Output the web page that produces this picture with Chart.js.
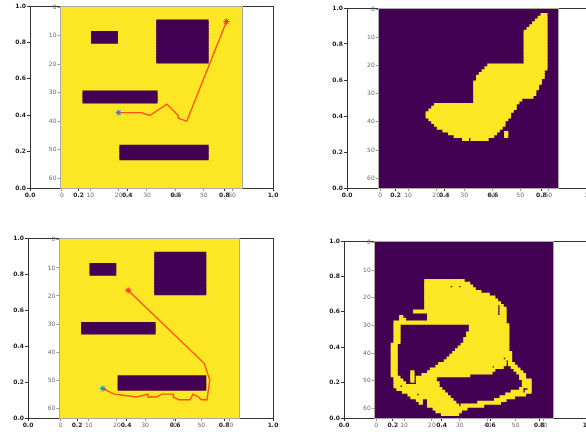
<!DOCTYPE html>
<html><head><meta charset="utf-8">
<script src="https://cdn.jsdelivr.net/npm/chart.js@4.4.1/dist/chart.umd.min.js"></script>
<style>
html,body{margin:0;padding:0;background:#fff;overflow:hidden;width:586px;height:434px}
#wrap{position:relative;width:586px;height:434px;overflow:hidden;background:#fff}
canvas{position:absolute;left:0;top:0}
</style></head><body><div id="wrap"></div>
<script>
// ---------------- data ----------------
const outerTicks = [0, 0.2, 0.4, 0.6, 0.8, 1.0];
const gridTicks = [0, 10, 20, 30, 40, 50, 60];
const gridSize = 64;

// obstacle map (panels 1 and 3): rectangles as column / row ranges
const obstacleCols = [[11, 19], [34, 51], [8, 33], [21, 51]];
const obstacleRows = [[9, 12], [5, 19], [30, 33], [49, 53]];

// paths (first point = start, last point = goal)
const path1X = [20, 28, 31, 37, 41, 41, 44, 58];
const path1Y = [37, 37, 38, 34, 38, 39, 40, 5];
const path2X = [20, 21, 27, 30, 33, 37, 38, 38, 39, 42, 46, 47, 50, 51, 58];
const path2Y = [37, 38, 38, 37, 36, 33, 32, 29, 29, 26, 26, 24, 24, 25, 5];
const path3X = [15, 17, 19, 27, 31, 31, 34, 36, 40, 40, 42, 46, 47, 49, 50, 52, 53, 51, 24];
const path3Y = [53, 54, 55, 56, 55, 56, 56, 55, 55, 56, 57, 57, 55, 56, 57, 57, 50, 44, 18];
const path4X = [15, 15, 20, 24, 27, 30, 32, 33, 35, 36, 37, 38, 24];
const path4Y = [53, 52, 48, 45, 45, 41, 40, 37, 37, 38, 37, 33, 18];

// explored cells (panels 2 and 4): [row, firstCol, lastCol]
const explored2 = [
 [2,58,59],[3,57,59],[4,56,59],[5,55,59],[6,54,59],[7,53,59],[8,52,59],
 [9,52,59],[10,52,59],[11,52,59],[12,52,59],[13,52,59],[14,52,59],[15,52,59],
 [16,52,59],[17,52,59],[18,52,59],[19,52,59],
 [20,39,59],[21,38,59],[22,37,58],[23,36,58],[24,35,58],[25,35,57],[26,34,57],
 [27,34,56],[28,34,56],[29,34,55],[30,34,55],[31,34,54],[32,34,50],[33,34,49],
 [34,20,48],[35,19,48],[36,18,47],[37,17,46],[38,17,46],[39,18,45],[40,19,44],
 [41,20,44],[42,21,43],[43,23,42],[44,25,41],[44,45,45],[45,27,40],[45,45,45],
 [46,30,31],[46,33,38]
];
const explored4 = [
 [14,18,31],[15,18,33],[16,18,26],[16,28,29],[16,31,34],[17,18,35],[18,18,37],
 [19,18,40],[20,18,42],[21,18,43],[22,18,44],[23,18,43],[23,45,45],[24,18,43],
 [24,45,46],[25,14,43],[25,45,46],[26,19,43],[26,45,46],[27,9,9],[27,19,46],
 [28,9,10],[28,19,46],[29,7,46],
 [30,7,8],[30,34,47],[31,7,8],[31,34,47],[32,7,8],[32,34,47],[33,7,8],[33,33,47],
 [34,7,8],[34,33,47],[35,7,8],[35,32,47],[36,7,8],[36,32,47],[37,6,7],[37,31,47],
 [38,6,7],[38,30,47],[39,6,7],[39,29,47],[40,6,7],[40,28,48],[41,6,7],[41,27,48],
 [42,6,7],[42,26,45],[42,47,48],[43,6,7],[43,25,46],[43,48,48],
 [44,6,7],[44,23,46],[44,48,49],[45,6,7],[45,22,41],[45,43,45],[45,49,50],
 [46,6,7],[46,20,42],[46,50,51],[47,6,7],[47,13,13],[47,19,41],[47,51,52],
 [48,6,7],[48,13,13],[48,17,33],[48,52,53],[49,7,8],[49,13,13],[49,15,21],[49,52,53],
 [50,7,9],[50,13,13],[50,15,21],[50,53,55],[51,7,10],[51,15,22],[51,53,55],
 [52,7,8],[52,10,22],[52,53,55],[53,8,23],[53,52,52],[53,55,55],
 [54,10,24],[54,49,52],[54,54,55],[55,12,14],[55,16,25],[55,47,53],
 [56,13,26],[56,45,49],[57,15,16],[57,19,27],[57,43,46],
 [58,16,16],[58,19,28],[58,37,44],[59,19,29],[59,31,38],[60,21,32],[61,22,30],[62,24,29]
];

// ---------------- styling / layout ----------------
const YELLOW = '#fde725', PURPLE = '#440154';
const LINE = '#ff5014', START = '#1f77b4', GOAL = '#e3241b';
const CW = 620, CH = 434;
const YAX_W = 26, XAX_H = 14;
Chart.defaults.font.family = "'DejaVu Sans', sans-serif";
Chart.defaults.animation = false;

const obstacleRuns = [];
obstacleRows.forEach((rr, i) => {
  for (let r = rr[0]; r <= rr[1]; r++) obstacleRuns.push([r, obstacleCols[i][0], obstacleCols[i][1]]);
});

const panels = [
  {outer:{l:30,t:6,r:273,b:188}, inner:{l:60.5,t:6,r:242,b:188}, bg:YELLOW, fg:PURPLE, runs:obstacleRuns, px:path1X, py:path1Y},
  {outer:{l:347,t:8,r:590,b:188}, inner:{l:378.7,t:8,r:558,b:188}, bg:PURPLE, fg:YELLOW, runs:explored2, px:path2X, py:path2Y},
  {outer:{l:28,t:238.5,r:273,b:418}, inner:{l:59.3,t:238.5,r:239.3,b:418}, bg:YELLOW, fg:PURPLE, runs:obstacleRuns, px:path3X, py:path3Y},
  {outer:{l:344,t:241,r:588,b:418}, inner:{l:374.7,t:241,r:553.3,b:418}, bg:PURPLE, fg:YELLOW, runs:explored4, px:path4X, py:path4Y}
];

const wrap = document.getElementById('wrap');
function mkCanvas() {
  const c = document.createElement('canvas');
  c.width = CW; c.height = CH; c.style.width = CW + 'px'; c.style.height = CH + 'px';
  wrap.appendChild(c);
  return c.getContext('2d');
}
const fixW = w => s => { s.width = w; };
const fixH = h => s => { s.height = h; };
function pad(rc) { return {left: rc.l - YAX_W, top: rc.t, right: CW - rc.r, bottom: CH - rc.b - XAX_H}; }

const bgPlugin = {
  id: 'imgbg',
  beforeDraw(chart, args, opts) {
    if (!opts || !opts.color) return;
    const a = chart.chartArea, ctx = chart.ctx;
    ctx.save(); ctx.fillStyle = opts.color;
    ctx.fillRect(a.left, a.top, a.right - a.left, a.bottom - a.top);
    ctx.restore();
  }
};

function frameAxis(pos, color, isH) {
  return {
    type: 'linear', position: pos, min: 0, max: 1, display: true, z: 2,
    afterBuildTicks: s => { s.ticks = []; },
    afterFit: isH ? fixH(0) : fixW(0),
    ticks: {display: false}, grid: {display: false},
    border: {display: true, color: color, width: 1}
  };
}

panels.forEach(p => {
  // outer 0..1 axes
  const tickFontO = {size: 6, weight: 'bold'};
  new Chart(mkCanvas(), {
    type: 'scatter',
    data: {datasets: []},
    options: {
      responsive: false, animation: false,
      layout: {padding: pad(p.outer)},
      plugins: {legend: {display: false}, tooltip: {enabled: false}},
      scales: {
        x: {type: 'linear', position: 'bottom', min: 0, max: 1,
            afterBuildTicks: s => { s.ticks = outerTicks.map(v => ({value: v})); },
            afterFit: fixH(XAX_H),
            ticks: {color: '#1a1a1a', font: tickFontO, padding: 1, maxRotation: 0, autoSkip: false, callback: v => v.toFixed(1)},
            grid: {display: true, drawOnChartArea: false, drawTicks: true, tickLength: 3, color: '#333'},
            border: {display: true, color: '#333', width: 1}},
        y: {type: 'linear', position: 'left', min: 0, max: 1,
            afterBuildTicks: s => { s.ticks = outerTicks.map(v => ({value: v})); },
            afterFit: fixW(YAX_W),
            ticks: {color: '#1a1a1a', font: tickFontO, padding: 1, autoSkip: false, callback: v => v.toFixed(1)},
            grid: {display: true, drawOnChartArea: false, drawTicks: true, tickLength: 3, color: '#333'},
            border: {display: true, color: '#333', width: 1}},
        x2: frameAxis('top', '#333', true),
        y2: frameAxis('right', '#333', false)
      }
    }
  });

  // inner image axes
  const tickFontI = {size: 6};
  const cellData = p.runs.map(([r, c0, c1]) => ({y: r, x: [c0 - 0.5, c1 + 0.5]}));
  const pathData = p.px.map((x, i) => ({x: x, y: p.py[i]}));
  new Chart(mkCanvas(), {
    type: 'bar',
    data: {datasets: [
      {type: 'bar', indexAxis: 'y', data: cellData, backgroundColor: p.fg, borderWidth: 0,
       barPercentage: 1, categoryPercentage: 1, grouped: false, inflateAmount: 0.7},
      {type: 'line', indexAxis: 'x', data: pathData, borderColor: LINE, borderWidth: 1.4,
       pointRadius: 0, tension: 0, fill: false},
      {type: 'line', indexAxis: 'x', data: [pathData[0]], showLine: false, pointStyle: 'star',
       pointRadius: 3, borderColor: START, borderWidth: 1},
      {type: 'line', indexAxis: 'x', data: [pathData[pathData.length - 1]], showLine: false, pointStyle: 'star',
       pointRadius: 3, borderColor: GOAL, borderWidth: 1}
    ]},
    options: {
      responsive: false, animation: false, indexAxis: 'y',
      layout: {padding: pad(p.inner)},
      plugins: {legend: {display: false}, tooltip: {enabled: false}, imgbg: {color: p.bg}},
      scales: {
        x: {type: 'linear', position: 'bottom', min: -0.5, max: gridSize - 0.5, offset: false, z: 1,
            afterBuildTicks: s => { s.ticks = gridTicks.map(v => ({value: v})); },
            afterFit: fixH(XAX_H),
            ticks: {color: '#6a6a6a', font: tickFontI, padding: 1, maxRotation: 0, autoSkip: false},
            grid: {display: true, offset: false, drawOnChartArea: false, drawTicks: true, tickLength: 3, color: '#999'},
            border: {display: true, color: '#aaa', width: 1}},
        y: {type: 'linear', position: 'left', min: -0.5, max: gridSize - 0.5, reverse: true, offset: false, z: 1,
            afterBuildTicks: s => { s.ticks = gridTicks.map(v => ({value: v})); },
            afterFit: fixW(YAX_W),
            ticks: {color: '#6a6a6a', font: tickFontI, padding: 1, autoSkip: false},
            grid: {display: true, offset: false, drawOnChartArea: false, drawTicks: true, tickLength: 3, color: '#999'},
            border: {display: true, color: '#aaa', width: 1}},
        x2: frameAxis('top', '#aaa', true),
        y2: frameAxis('right', '#aaa', false)
      }
    },
    plugins: [bgPlugin]
  });
});
</script></body></html>
